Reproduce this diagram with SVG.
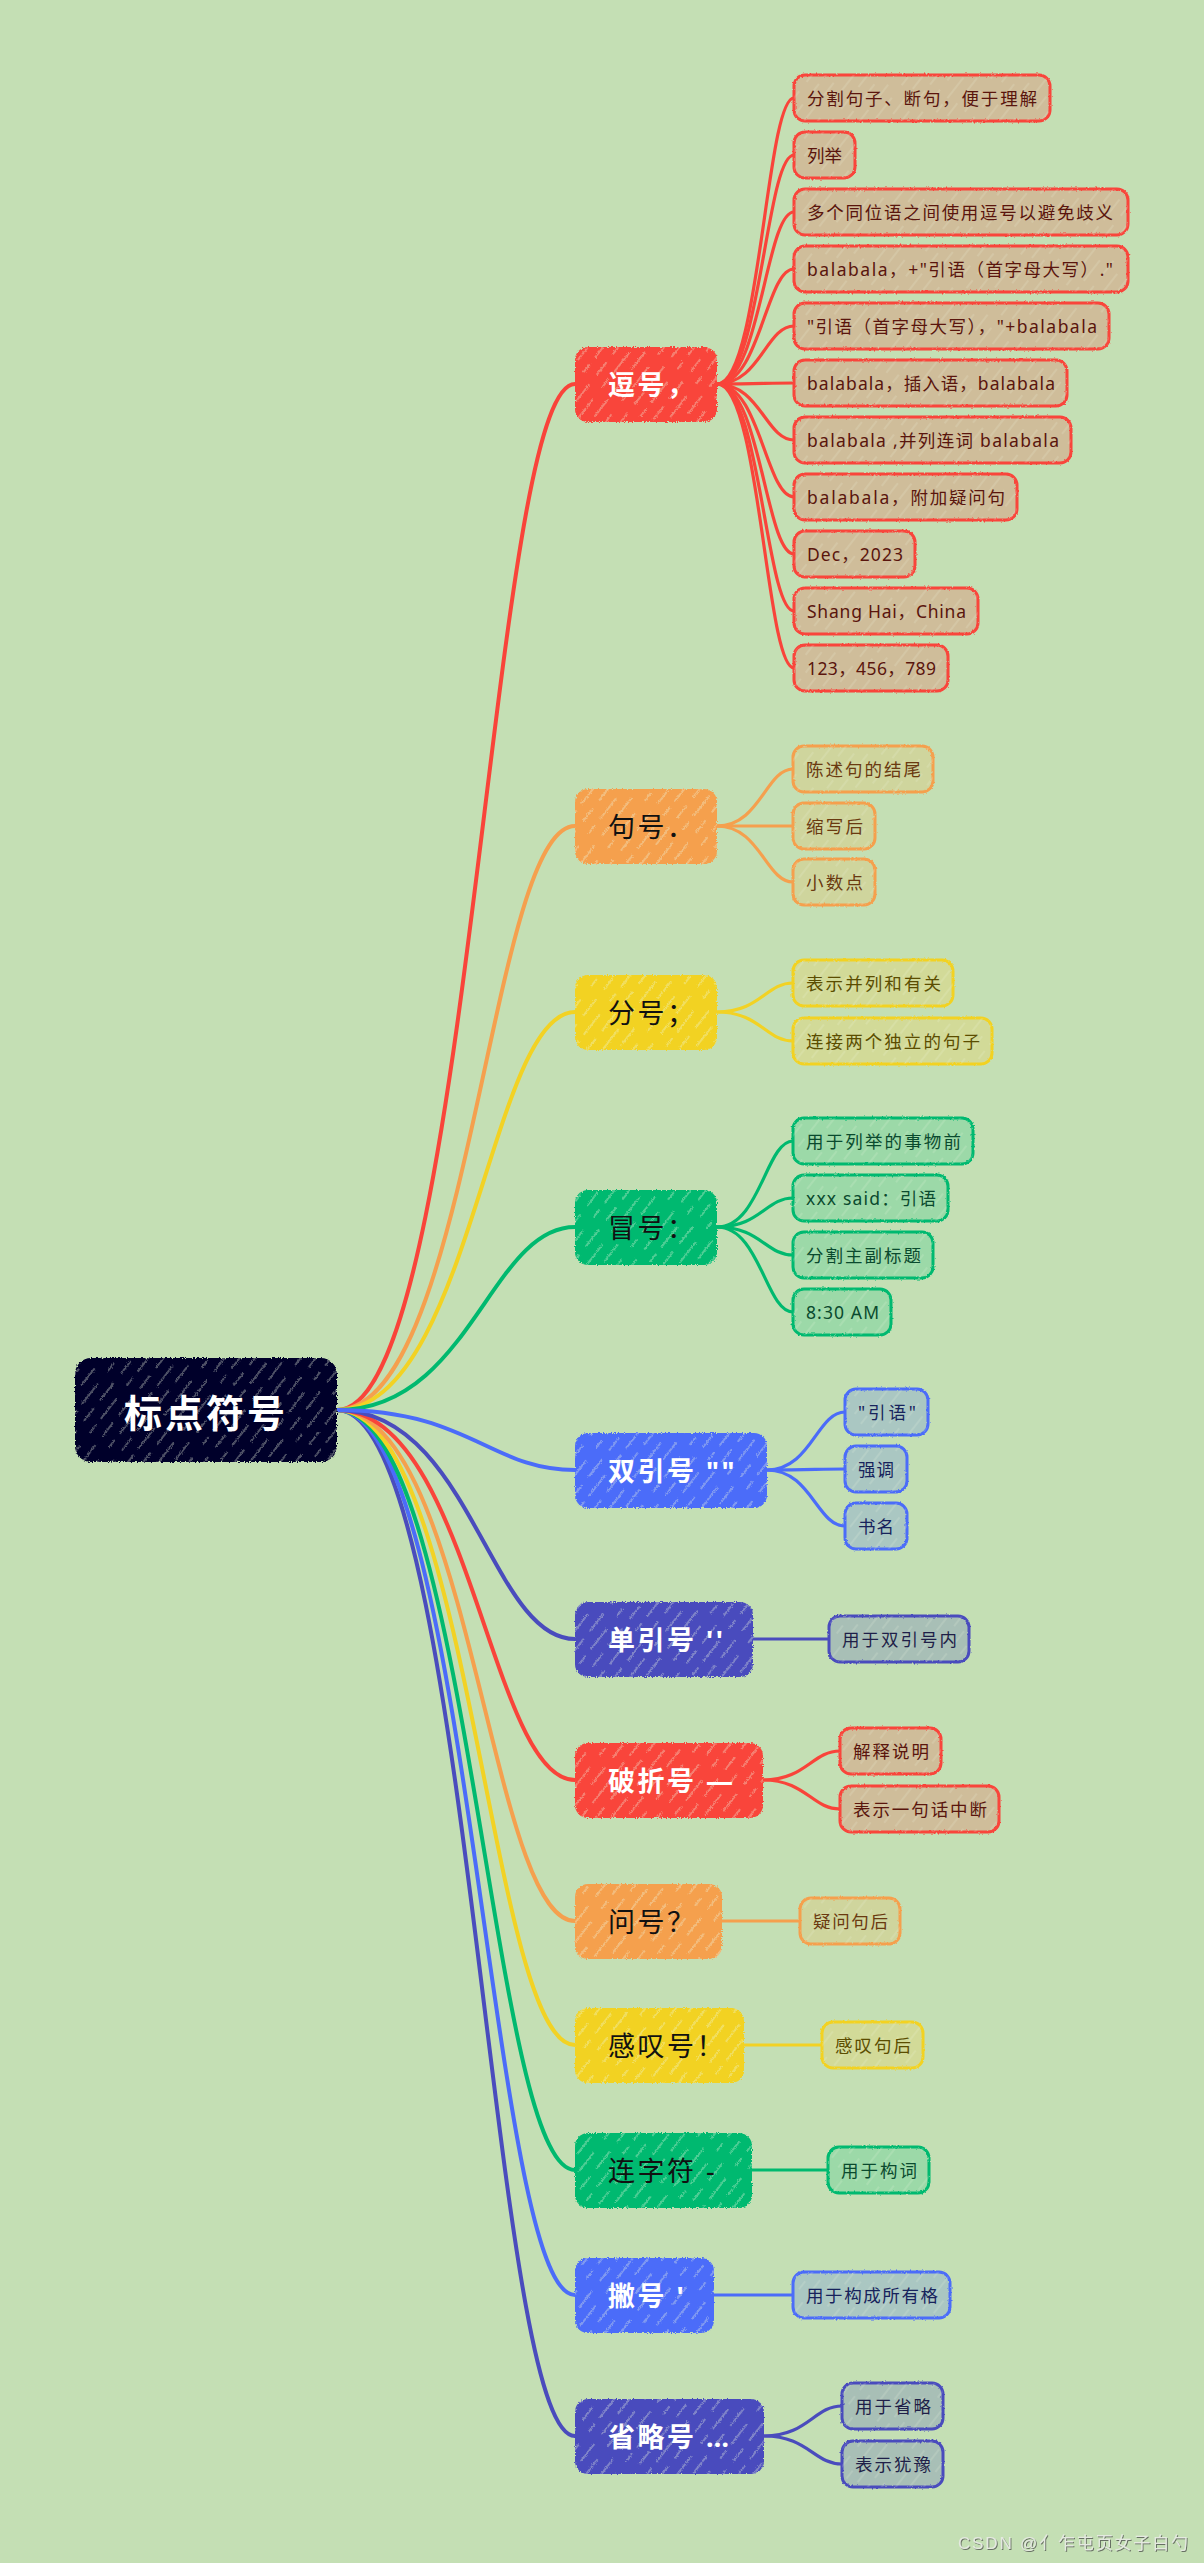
<svg xmlns="http://www.w3.org/2000/svg" width="1204" height="2563" viewBox="0 0 1204 2563">
<style>
.conn path{fill:none;stroke-linecap:round}
.l0{stroke-width:4}
.l1{stroke-width:3.2}
.red{stroke:#f9443a}.org{stroke:#f5a04e}.yel{stroke:#f2d224}.grn{stroke:#00b96f}.blu{stroke:#4b6cf9}.ind{stroke:#4a4cbd}
.t0{font-family:"Noto Sans CJK SC","Noto Sans",sans-serif;font-size:38px;font-weight:bold;fill:#fff;letter-spacing:3px;dominant-baseline:central}
.t1{font-family:"Noto Sans","Noto Sans CJK SC",sans-serif;font-size:27px;letter-spacing:2.5px;dominant-baseline:central}
.w{fill:#fff;font-weight:bold}.k{fill:#111}
.t2{font-family:"Noto Sans","Noto Sans CJK SC",sans-serif;font-size:17.5px;dominant-baseline:central}
.box{stroke-width:3}
.hl{fill:url(#hl)}
.hd{fill:url(#hd)}
.fr{fill:#f9443a}.fo{fill:#f5a04e}.fy{fill:#f2d224}.fg{fill:#00b96f}.fb{fill:#4b6cf9}.fi{fill:#4a4cbd}
.cr{fill:#cfbd9a;stroke:#f9443a}.co{fill:#cfd59d;stroke:#f5a04e}.cy{fill:#d2da98;stroke:#f2d224}.cg{fill:#9cd9a8;stroke:#00b96f}.cb{fill:#aac7c2;stroke:#4b6cf9}.ci{fill:#a8bfb6;stroke:#4a4cbd}
.tr{fill:#5a150d}.to{fill:#6a3a10}.ty{fill:#5b4d00}.tg{fill:#0a4a2e}.tb{fill:#17235c}.ti{fill:#1f1f48}
</style>
<defs>
<pattern id="hd" patternUnits="userSpaceOnUse" width="24" height="60" patternTransform="rotate(38)">
<path d="M5 0v22M5 32v16M17 10v26M17 44v10" stroke="#eef7e0" stroke-width="1.3" stroke-opacity="0.5" fill="none"/>
</pattern>
<pattern id="hl" patternUnits="userSpaceOnUse" width="22" height="60" patternTransform="rotate(38)">
<path d="M4 0v20M4 32v16M15 8v26M15 42v10" stroke="#f4fbe8" stroke-width="1" stroke-opacity="0.3" fill="none"/>
</pattern>
<filter id="rough" x="-5%" y="-10%" width="110%" height="120%">
<feTurbulence type="fractalNoise" baseFrequency="0.8" numOctaves="1" seed="4" result="n"/>
<feDisplacementMap in="SourceGraphic" in2="n" scale="4" xChannelSelector="R" yChannelSelector="G"/>
</filter>
<filter id="rough2" x="-5%" y="-10%" width="110%" height="120%">
<feTurbulence type="fractalNoise" baseFrequency="0.5" numOctaves="1" seed="7" result="n"/>
<feDisplacementMap in="SourceGraphic" in2="n" scale="2.5" xChannelSelector="R" yChannelSelector="G"/>
</filter>
<filter id="emb" x="-5%" y="-30%" width="110%" height="160%">
<feDropShadow dx="1" dy="1" stdDeviation="0.4" flood-color="#5e655b" flood-opacity="0.9"/>
</filter>
</defs>
<rect width="1204" height="2563" fill="#c4dfb4"/>

<g id="connectors" class="conn">
<path class="l0 red" d="M337,1410 C470,1410 490,384 575,384"/>
<path class="l0 org" d="M337,1410 C470,1410 490,826 575,826"/>
<path class="l0 yel" d="M337,1410 C470,1410 490,1012 575,1012"/>
<path class="l0 grn" d="M337,1410 C470,1410 490,1227 575,1227"/>
<path class="l0 ind" d="M337,1410 C470,1410 490,2436 575,2436"/>
<path class="l0 blu" d="M337,1410 C470,1410 490,2295 575,2295"/>
<path class="l0 grn" d="M337,1410 C470,1410 490,2170 575,2170"/>
<path class="l0 yel" d="M337,1410 C470,1410 490,2045 575,2045"/>
<path class="l0 org" d="M337,1410 C470,1410 490,1921 575,1921"/>
<path class="l0 red" d="M337,1410 C470,1410 490,1780 575,1780"/>
<path class="l0 ind" d="M337,1410 C470,1410 490,1639 575,1639"/>
<path class="l0 blu" d="M337,1410 C470,1410 490,1470 575,1470"/>

<path class="l1 red" d="M717,384 C760,384 766,98 794,98"/>
<path class="l1 red" d="M717,384 C760,384 766,155 794,155"/>
<path class="l1 red" d="M717,384 C760,384 766,212 794,212"/>
<path class="l1 red" d="M717,384 C760,384 766,269 794,269"/>
<path class="l1 red" d="M717,384 C760,384 766,326 794,326"/>
<path class="l1 red" d="M717,384 C760,384 766,383 794,383"/>
<path class="l1 red" d="M717,384 C760,384 766,440 794,440"/>
<path class="l1 red" d="M717,384 C760,384 766,497 794,497"/>
<path class="l1 red" d="M717,384 C760,384 766,554 794,554"/>
<path class="l1 red" d="M717,384 C760,384 766,611 794,611"/>
<path class="l1 red" d="M717,384 C760,384 766,668 794,668"/>

<path class="l1 org" d="M717,826 C760,826 766,769 793,769"/>
<path class="l1 org" d="M717,826 C760,826 766,826 793,826"/>
<path class="l1 org" d="M717,826 C760,826 766,882 793,882"/>

<path class="l1 yel" d="M717,1012 C760,1012 766,983 793,983"/>
<path class="l1 yel" d="M717,1012 C760,1012 766,1041 793,1041"/>

<path class="l1 grn" d="M717,1227 C760,1227 766,1141 793,1141"/>
<path class="l1 grn" d="M717,1227 C760,1227 766,1198 793,1198"/>
<path class="l1 grn" d="M717,1227 C760,1227 766,1255 793,1255"/>
<path class="l1 grn" d="M717,1227 C760,1227 766,1312 793,1312"/>

<path class="l1 blu" d="M767,1470 C811,1470 817,1412 845,1412"/>
<path class="l1 blu" d="M767,1470 C811,1470 817,1469 845,1469"/>
<path class="l1 blu" d="M767,1470 C811,1470 817,1526 845,1526"/>

<path class="l1 ind" d="M753,1639 L829,1639"/>

<path class="l1 red" d="M763,1780 C806,1780 812,1751 840,1751"/>
<path class="l1 red" d="M763,1780 C806,1780 812,1809 840,1809"/>

<path class="l1 org" d="M722,1921 L800,1921"/>
<path class="l1 yel" d="M744,2045 L822,2045"/>
<path class="l1 grn" d="M752,2170 L828,2170"/>
<path class="l1 blu" d="M714,2295 L793,2295"/>

<path class="l1 ind" d="M764,2436 C808,2436 814,2406 842,2406"/>
<path class="l1 ind" d="M764,2436 C808,2436 814,2464 842,2464"/>
</g>

<g id="root">
<rect x="75" y="1358" width="262" height="104" rx="16" fill="#02022a" filter="url(#rough)"/>
<rect x="75" y="1358" width="262" height="104" rx="16" class="hd" filter="url(#rough)"/>
<text class="t0" x="206" y="1410" text-anchor="middle">标点符号</text>
</g>

<g id="n-douhao">
<rect x="575" y="347" width="142" height="75" rx="13" class="fr" filter="url(#rough)"/>
<rect x="575" y="347" width="142" height="75" rx="13" class="hd" filter="url(#rough)"/>
<text class="t1 w" x="608" y="384">逗号，</text>
</g>
<g id="n-juhao">
<rect x="575" y="789" width="142" height="75" rx="13" class="fo" filter="url(#rough)"/>
<rect x="575" y="789" width="142" height="75" rx="13" class="hd" filter="url(#rough)"/>
<text class="t1 k" x="608" y="826">句号．</text>
</g>
<g id="n-fenhao">
<rect x="575" y="975" width="142" height="75" rx="13" class="fy" filter="url(#rough)"/>
<rect x="575" y="975" width="142" height="75" rx="13" class="hd" filter="url(#rough)"/>
<text class="t1 k" x="608" y="1012">分号；</text>
</g>
<g id="n-maohao">
<rect x="575" y="1190" width="142" height="75" rx="13" class="fg" filter="url(#rough)"/>
<rect x="575" y="1190" width="142" height="75" rx="13" class="hd" filter="url(#rough)"/>
<text class="t1 k" x="608" y="1227">冒号：</text>
</g>
<g id="n-shuangyinhao">
<rect x="575" y="1433" width="192" height="75" rx="13" class="fb" filter="url(#rough)"/>
<rect x="575" y="1433" width="192" height="75" rx="13" class="hd" filter="url(#rough)"/>
<text class="t1 w" x="608" y="1470">双引号 ""</text>
</g>
<g id="n-danyinhao">
<rect x="575" y="1602" width="178" height="75" rx="13" class="fi" filter="url(#rough)"/>
<rect x="575" y="1602" width="178" height="75" rx="13" class="hd" filter="url(#rough)"/>
<text class="t1 w" x="608" y="1639">单引号 ''</text>
</g>
<g id="n-pozhehao">
<rect x="575" y="1743" width="188" height="75" rx="13" class="fr" filter="url(#rough)"/>
<rect x="575" y="1743" width="188" height="75" rx="13" class="hd" filter="url(#rough)"/>
<text class="t1 w" x="608" y="1780">破折号 —</text>
</g>
<g id="n-wenhao">
<rect x="575" y="1884" width="147" height="75" rx="13" class="fo" filter="url(#rough)"/>
<rect x="575" y="1884" width="147" height="75" rx="13" class="hd" filter="url(#rough)"/>
<text class="t1 k" x="608" y="1921">问号？</text>
</g>
<g id="n-gantanhao">
<rect x="575" y="2008" width="169" height="75" rx="13" class="fy" filter="url(#rough)"/>
<rect x="575" y="2008" width="169" height="75" rx="13" class="hd" filter="url(#rough)"/>
<text class="t1 k" x="608" y="2045">感叹号！</text>
</g>
<g id="n-lianzifu">
<rect x="575" y="2133" width="177" height="75" rx="13" class="fg" filter="url(#rough)"/>
<rect x="575" y="2133" width="177" height="75" rx="13" class="hd" filter="url(#rough)"/>
<text class="t1 k" x="608" y="2170">连字符 -</text>
</g>
<g id="n-piehao">
<rect x="575" y="2258" width="139" height="75" rx="13" class="fb" filter="url(#rough)"/>
<rect x="575" y="2258" width="139" height="75" rx="13" class="hd" filter="url(#rough)"/>
<text class="t1 w" x="608" y="2295">撇号 '</text>
</g>
<g id="n-shenglvehao">
<rect x="575" y="2399" width="189" height="75" rx="13" class="fi" filter="url(#rough)"/>
<rect x="575" y="2399" width="189" height="75" rx="13" class="hd" filter="url(#rough)"/>
<text class="t1 w" x="608" y="2436">省略号 …</text>
</g>

<g id="c-d1"><rect class="box cr" x="794" y="75" width="256" height="46" rx="11" filter="url(#rough2)"/><rect class="hl" x="794" y="75" width="256" height="46" rx="11"/><text class="t2 tr" x="807" y="98" textLength="230" lengthAdjust="spacing">分割句子、断句，便于理解</text></g>
<g id="c-d2"><rect class="box cr" x="794" y="132" width="61" height="46" rx="11" filter="url(#rough2)"/><rect class="hl" x="794" y="132" width="61" height="46" rx="11"/><text class="t2 tr" x="807" y="155" textLength="35" lengthAdjust="spacing">列举</text></g>
<g id="c-d3"><rect class="box cr" x="794" y="189" width="334" height="46" rx="11" filter="url(#rough2)"/><rect class="hl" x="794" y="189" width="334" height="46" rx="11"/><text class="t2 tr" x="807" y="212" textLength="306" lengthAdjust="spacing">多个同位语之间使用逗号以避免歧义</text></g>
<g id="c-d4"><rect class="box cr" x="794" y="246" width="334" height="46" rx="11" filter="url(#rough2)"/><rect class="hl" x="794" y="246" width="334" height="46" rx="11"/><text class="t2 tr" x="807" y="269" textLength="306" lengthAdjust="spacing">balabala，+"引语（首字母大写）."</text></g>
<g id="c-d5"><rect class="box cr" x="794" y="303" width="315" height="46" rx="11" filter="url(#rough2)"/><rect class="hl" x="794" y="303" width="315" height="46" rx="11"/><text class="t2 tr" x="807" y="326" textLength="290" lengthAdjust="spacing">"引语（首字母大写），"+balabala</text></g>
<g id="c-d6"><rect class="box cr" x="794" y="360" width="273" height="46" rx="11" filter="url(#rough2)"/><rect class="hl" x="794" y="360" width="273" height="46" rx="11"/><text class="t2 tr" x="807" y="383" textLength="248" lengthAdjust="spacing">balabala，插入语，balabala</text></g>
<g id="c-d7"><rect class="box cr" x="794" y="417" width="277" height="46" rx="11" filter="url(#rough2)"/><rect class="hl" x="794" y="417" width="277" height="46" rx="11"/><text class="t2 tr" x="807" y="440" textLength="252" lengthAdjust="spacing">balabala ,并列连词 balabala</text></g>
<g id="c-d8"><rect class="box cr" x="794" y="474" width="223" height="46" rx="11" filter="url(#rough2)"/><rect class="hl" x="794" y="474" width="223" height="46" rx="11"/><text class="t2 tr" x="807" y="497" textLength="198" lengthAdjust="spacing">balabala，附加疑问句</text></g>
<g id="c-d9"><rect class="box cr" x="794" y="531" width="121" height="46" rx="11" filter="url(#rough2)"/><rect class="hl" x="794" y="531" width="121" height="46" rx="11"/><text class="t2 tr" x="807" y="554" textLength="96" lengthAdjust="spacing">Dec，2023</text></g>
<g id="c-d10"><rect class="box cr" x="794" y="588" width="184" height="46" rx="11" filter="url(#rough2)"/><rect class="hl" x="794" y="588" width="184" height="46" rx="11"/><text class="t2 tr" x="807" y="611" textLength="159" lengthAdjust="spacing">Shang Hai，China</text></g>
<g id="c-d11"><rect class="box cr" x="794" y="645" width="154" height="46" rx="11" filter="url(#rough2)"/><rect class="hl" x="794" y="645" width="154" height="46" rx="11"/><text class="t2 tr" x="807" y="668" textLength="129" lengthAdjust="spacing">123，456，789</text></g>

<g id="c-j1"><rect class="box co" x="793" y="746" width="140" height="46" rx="11" filter="url(#rough2)"/><rect class="hl" x="793" y="746" width="140" height="46" rx="11"/><text class="t2 to" x="806" y="769" textLength="115" lengthAdjust="spacing">陈述句的结尾</text></g>
<g id="c-j2"><rect class="box co" x="793" y="803" width="82" height="46" rx="11" filter="url(#rough2)"/><rect class="hl" x="793" y="803" width="82" height="46" rx="11"/><text class="t2 to" x="806" y="826" textLength="57" lengthAdjust="spacing">缩写后</text></g>
<g id="c-j3"><rect class="box co" x="793" y="859" width="82" height="46" rx="11" filter="url(#rough2)"/><rect class="hl" x="793" y="859" width="82" height="46" rx="11"/><text class="t2 to" x="806" y="882" textLength="57" lengthAdjust="spacing">小数点</text></g>

<g id="c-f1"><rect class="box cy" x="793" y="960" width="160" height="46" rx="11" filter="url(#rough2)"/><rect class="hl" x="793" y="960" width="160" height="46" rx="11"/><text class="t2 ty" x="806" y="983" textLength="135" lengthAdjust="spacing">表示并列和有关</text></g>
<g id="c-f2"><rect class="box cy" x="793" y="1018" width="199" height="46" rx="11" filter="url(#rough2)"/><rect class="hl" x="793" y="1018" width="199" height="46" rx="11"/><text class="t2 ty" x="806" y="1041" textLength="174" lengthAdjust="spacing">连接两个独立的句子</text></g>

<g id="c-m1"><rect class="box cg" x="793" y="1118" width="180" height="46" rx="11" filter="url(#rough2)"/><rect class="hl" x="793" y="1118" width="180" height="46" rx="11"/><text class="t2 tg" x="806" y="1141" textLength="155" lengthAdjust="spacing">用于列举的事物前</text></g>
<g id="c-m2"><rect class="box cg" x="793" y="1175" width="155" height="46" rx="11" filter="url(#rough2)"/><rect class="hl" x="793" y="1175" width="155" height="46" rx="11"/><text class="t2 tg" x="806" y="1198" textLength="130" lengthAdjust="spacing">xxx said：引语</text></g>
<g id="c-m3"><rect class="box cg" x="793" y="1232" width="140" height="46" rx="11" filter="url(#rough2)"/><rect class="hl" x="793" y="1232" width="140" height="46" rx="11"/><text class="t2 tg" x="806" y="1255" textLength="115" lengthAdjust="spacing">分割主副标题</text></g>
<g id="c-m4"><rect class="box cg" x="793" y="1289" width="98" height="46" rx="11" filter="url(#rough2)"/><rect class="hl" x="793" y="1289" width="98" height="46" rx="11"/><text class="t2 tg" x="806" y="1312" textLength="73" lengthAdjust="spacing">8:30 AM</text></g>

<g id="c-s1"><rect class="box cb" x="845" y="1389" width="83" height="46" rx="11" filter="url(#rough2)"/><rect class="hl" x="845" y="1389" width="83" height="46" rx="11"/><text class="t2 tb" x="858" y="1412" textLength="58" lengthAdjust="spacing">"引语"</text></g>
<g id="c-s2"><rect class="box cb" x="845" y="1446" width="62" height="46" rx="11" filter="url(#rough2)"/><rect class="hl" x="845" y="1446" width="62" height="46" rx="11"/><text class="t2 tb" x="858" y="1469" textLength="36" lengthAdjust="spacing">强调</text></g>
<g id="c-s3"><rect class="box cb" x="845" y="1503" width="62" height="46" rx="11" filter="url(#rough2)"/><rect class="hl" x="845" y="1503" width="62" height="46" rx="11"/><text class="t2 tb" x="858" y="1526" textLength="36" lengthAdjust="spacing">书名</text></g>

<g id="c-dy1"><rect class="box ci" x="829" y="1616" width="140" height="46" rx="11" filter="url(#rough2)"/><rect class="hl" x="829" y="1616" width="140" height="46" rx="11"/><text class="t2 ti" x="842" y="1639" textLength="115" lengthAdjust="spacing">用于双引号内</text></g>

<g id="c-p1"><rect class="box cr" x="840" y="1728" width="101" height="46" rx="11" filter="url(#rough2)"/><rect class="hl" x="840" y="1728" width="101" height="46" rx="11"/><text class="t2 tr" x="853" y="1751" textLength="76" lengthAdjust="spacing">解释说明</text></g>
<g id="c-p2"><rect class="box cr" x="840" y="1786" width="159" height="46" rx="11" filter="url(#rough2)"/><rect class="hl" x="840" y="1786" width="159" height="46" rx="11"/><text class="t2 tr" x="853" y="1809" textLength="134" lengthAdjust="spacing">表示一句话中断</text></g>

<g id="c-w1"><rect class="box co" x="800" y="1898" width="100" height="46" rx="11" filter="url(#rough2)"/><rect class="hl" x="800" y="1898" width="100" height="46" rx="11"/><text class="t2 to" x="813" y="1921" textLength="75" lengthAdjust="spacing">疑问句后</text></g>

<g id="c-g1"><rect class="box cy" x="822" y="2022" width="101" height="46" rx="11" filter="url(#rough2)"/><rect class="hl" x="822" y="2022" width="101" height="46" rx="11"/><text class="t2 ty" x="835" y="2045" textLength="76" lengthAdjust="spacing">感叹句后</text></g>

<g id="c-l1"><rect class="box cg" x="828" y="2147" width="101" height="46" rx="11" filter="url(#rough2)"/><rect class="hl" x="828" y="2147" width="101" height="46" rx="11"/><text class="t2 tg" x="841" y="2170" textLength="76" lengthAdjust="spacing">用于构词</text></g>

<g id="c-pi1"><rect class="box cb" x="793" y="2272" width="157" height="46" rx="11" filter="url(#rough2)"/><rect class="hl" x="793" y="2272" width="157" height="46" rx="11"/><text class="t2 tb" x="806" y="2295" textLength="132" lengthAdjust="spacing">用于构成所有格</text></g>

<g id="c-sl1"><rect class="box ci" x="842" y="2383" width="101" height="46" rx="11" filter="url(#rough2)"/><rect class="hl" x="842" y="2383" width="101" height="46" rx="11"/><text class="t2 ti" x="855" y="2406" textLength="76" lengthAdjust="spacing">用于省略</text></g>
<g id="c-sl2"><rect class="box ci" x="842" y="2441" width="101" height="46" rx="11" filter="url(#rough2)"/><rect class="hl" x="842" y="2441" width="101" height="46" rx="11"/><text class="t2 ti" x="855" y="2464" textLength="76" lengthAdjust="spacing">表示犹豫</text></g>

<text x="958" y="2549" font-family="'Liberation Sans','Noto Sans CJK SC',sans-serif" font-size="17" fill="#e4e9e0" filter="url(#emb)" textLength="230" lengthAdjust="spacing">CSDN @亻乍屯页女子白勺</text>
</svg>
